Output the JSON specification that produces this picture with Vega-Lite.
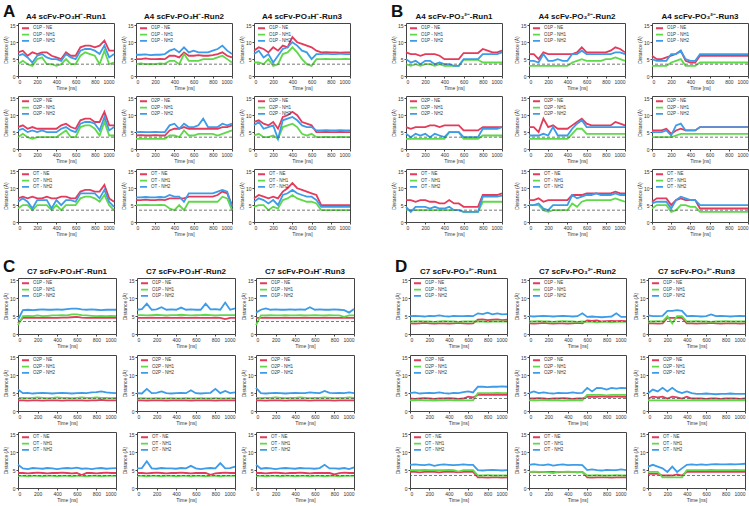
{
"$schema":"https://vega.github.io/schema/vega-lite/v6.json",
"background":"white",
"padding":{"left":2,"top":2,"right":2,"bottom":2},
"config":{
"font":"Liberation Sans",
"numberFormat":"d",
"view":{"stroke":"#444","strokeWidth":1,"continuousWidth":96,"continuousHeight":53},
"axis":{"grid":false,"domain":false,"labelFontSize":5,"titleFontSize":5,"titleFontWeight":"normal","tickSize":2,"labelPadding":1,"titlePadding":1,"tickColor":"#444","labelColor":"#333","titleColor":"#333"},
"axisX":{"tickCount":5},
"axisY":{"tickCount":3},
"title":{"fontSize":8,"fontWeight":"bold","offset":2,"color":"#111"},
"range":{"category":["#e23b5c","#5fd94a","#3c9ce8"]},
"line":{"strokeWidth":1.8},
"rule":{"strokeDash":[3,2],"color":"#555","strokeWidth":0.8},
"legend":{"orient":"top-left","offset":2,"padding":1,"labelFontSize":4.5,"symbolType":"stroke","symbolSize":50,"symbolStrokeWidth":2.5,"rowPadding":0.3,"clipHeight":4.5,"labelOffset":3,"labelColor":"#333"}
},
"datasets":{
"A11":[{"t":0,"NE":7,"NH1":3.5,"NH2":6},{"t":50,"NE":7.5,"NH1":4.5,"NH2":6.5},{"t":100,"NE":6,"NH1":3.5,"NH2":5.5},{"t":150,"NE":7,"NH1":3,"NH2":4},{"t":200,"NE":6.5,"NH1":5,"NH2":6},{"t":250,"NE":7,"NH1":5.5,"NH2":6.5},{"t":300,"NE":7,"NH1":3.5,"NH2":5.5},{"t":350,"NE":6,"NH1":3.5,"NH2":5},{"t":400,"NE":5.5,"NH1":3,"NH2":5},{"t":450,"NE":5,"NH1":3.5,"NH2":4.5},{"t":500,"NE":7,"NH1":5,"NH2":6.5},{"t":550,"NE":6,"NH1":3.5,"NH2":5.5},{"t":600,"NE":6,"NH1":3.5,"NH2":5},{"t":650,"NE":8.5,"NH1":6,"NH2":7.5},{"t":700,"NE":9,"NH1":7,"NH2":8},{"t":750,"NE":9,"NH1":6.5,"NH2":8},{"t":800,"NE":8.5,"NH1":6,"NH2":7.5},{"t":850,"NE":9,"NH1":3.5,"NH2":6.5},{"t":900,"NE":10.5,"NH1":7.5,"NH2":9},{"t":950,"NE":7.5,"NH1":3.5,"NH2":5.5},{"t":1000,"NE":7.5,"NH1":4,"NH2":6.5}],
"A12":[{"t":0,"NE":5,"NH1":3.5,"NH2":6.3},{"t":50,"NE":5,"NH1":3.7,"NH2":6.3},{"t":100,"NE":5.2,"NH1":3.5,"NH2":6.4},{"t":150,"NE":5,"NH1":3.6,"NH2":6.2},{"t":200,"NE":5,"NH1":3.5,"NH2":6.3},{"t":250,"NE":5.1,"NH1":3.7,"NH2":6.3},{"t":300,"NE":5,"NH1":3.6,"NH2":6.5},{"t":350,"NE":6,"NH1":4.5,"NH2":7.5},{"t":400,"NE":6,"NH1":4.5,"NH2":8},{"t":450,"NE":5.5,"NH1":3.5,"NH2":7},{"t":500,"NE":7,"NH1":6.5,"NH2":8.5},{"t":550,"NE":6,"NH1":4.5,"NH2":7},{"t":600,"NE":6,"NH1":4.5,"NH2":7.5},{"t":650,"NE":6.2,"NH1":4.5,"NH2":7},{"t":700,"NE":6,"NH1":5,"NH2":7},{"t":750,"NE":6,"NH1":5,"NH2":7},{"t":800,"NE":6.2,"NH1":5,"NH2":7.5},{"t":850,"NE":6.5,"NH1":5.5,"NH2":8},{"t":900,"NE":7,"NH1":6,"NH2":9},{"t":950,"NE":6,"NH1":5,"NH2":7.5},{"t":1000,"NE":5.5,"NH1":4,"NH2":6.5}],
"A13":[{"t":0,"NE":7.5,"NH1":4,"NH2":6.5},{"t":50,"NE":8.5,"NH1":4,"NH2":7.5},{"t":100,"NE":8,"NH1":3.5,"NH2":5.5},{"t":150,"NE":7,"NH1":5,"NH2":6.5},{"t":200,"NE":8.5,"NH1":3,"NH2":4},{"t":250,"NE":7.5,"NH1":3.5,"NH2":6},{"t":300,"NE":9,"NH1":6.5,"NH2":8},{"t":350,"NE":8.5,"NH1":7,"NH2":8.5},{"t":400,"NE":11.5,"NH1":8.5,"NH2":10},{"t":450,"NE":10,"NH1":7,"NH2":9},{"t":500,"NE":9.5,"NH1":5,"NH2":7.5},{"t":550,"NE":9,"NH1":3.5,"NH2":7},{"t":600,"NE":8.5,"NH1":3,"NH2":5},{"t":650,"NE":7.5,"NH1":5,"NH2":6.5},{"t":700,"NE":7,"NH1":5,"NH2":6.5},{"t":750,"NE":7.1,"NH1":5.1,"NH2":6.6},{"t":800,"NE":7,"NH1":5,"NH2":6.5},{"t":850,"NE":7,"NH1":5,"NH2":6.5},{"t":900,"NE":6.9,"NH1":5,"NH2":6.6},{"t":950,"NE":7,"NH1":5.1,"NH2":6.5},{"t":1000,"NE":7,"NH1":5,"NH2":6.5}],
"A21":[{"t":0,"NE":6.5,"NH1":3.5,"NH2":5.5},{"t":50,"NE":7,"NH1":4.5,"NH2":6},{"t":100,"NE":6,"NH1":3.5,"NH2":5},{"t":150,"NE":6.5,"NH1":3,"NH2":5.5},{"t":200,"NE":6,"NH1":3.5,"NH2":5},{"t":250,"NE":6,"NH1":3.5,"NH2":5.5},{"t":300,"NE":6,"NH1":3.5,"NH2":5},{"t":350,"NE":6,"NH1":3.5,"NH2":5},{"t":400,"NE":6,"NH1":3.5,"NH2":5},{"t":450,"NE":7,"NH1":4.5,"NH2":6},{"t":500,"NE":7.5,"NH1":5.5,"NH2":6.5},{"t":550,"NE":6.5,"NH1":3.5,"NH2":5.5},{"t":600,"NE":6,"NH1":3.5,"NH2":5},{"t":650,"NE":8.5,"NH1":6.5,"NH2":7.5},{"t":700,"NE":9,"NH1":7,"NH2":8},{"t":750,"NE":9,"NH1":7,"NH2":8},{"t":800,"NE":8,"NH1":6,"NH2":7.5},{"t":850,"NE":8,"NH1":4,"NH2":5.5},{"t":900,"NE":11,"NH1":8,"NH2":9.5},{"t":950,"NE":7,"NH1":4,"NH2":5.5},{"t":1000,"NE":7,"NH1":4,"NH2":6.5}],
"A22":[{"t":0,"NE":4,"NH1":3,"NH2":5},{"t":50,"NE":4.1,"NH1":3.1,"NH2":5.1},{"t":100,"NE":4,"NH1":3,"NH2":5},{"t":150,"NE":4,"NH1":3,"NH2":5},{"t":200,"NE":4.1,"NH1":3.1,"NH2":5.1},{"t":250,"NE":4,"NH1":3,"NH2":5},{"t":300,"NE":4,"NH1":3,"NH2":5},{"t":350,"NE":5.5,"NH1":4,"NH2":7},{"t":400,"NE":6,"NH1":4,"NH2":7.5},{"t":450,"NE":6,"NH1":3.5,"NH2":6},{"t":500,"NE":6.5,"NH1":5.5,"NH2":7.5},{"t":550,"NE":6,"NH1":4,"NH2":6.5},{"t":600,"NE":6,"NH1":4,"NH2":6.5},{"t":650,"NE":6,"NH1":4.5,"NH2":7},{"t":700,"NE":6,"NH1":4.5,"NH2":9},{"t":750,"NE":6,"NH1":4.5,"NH2":6.5},{"t":800,"NE":6,"NH1":4.5,"NH2":6.5},{"t":850,"NE":6,"NH1":4,"NH2":6.5},{"t":900,"NE":6.5,"NH1":4.5,"NH2":7.5},{"t":950,"NE":6.5,"NH1":5,"NH2":7},{"t":1000,"NE":7,"NH1":5.5,"NH2":7.5}],
"A23":[{"t":0,"NE":8,"NH1":4,"NH2":7},{"t":50,"NE":8.5,"NH1":4.5,"NH2":8},{"t":100,"NE":7.5,"NH1":3.5,"NH2":6},{"t":150,"NE":7,"NH1":3.5,"NH2":6.5},{"t":200,"NE":8,"NH1":4,"NH2":7},{"t":250,"NE":6,"NH1":3,"NH2":3},{"t":300,"NE":9.5,"NH1":6.5,"NH2":8.5},{"t":350,"NE":10,"NH1":7,"NH2":9},{"t":400,"NE":11,"NH1":7.5,"NH2":9.5},{"t":450,"NE":10,"NH1":6.5,"NH2":8.5},{"t":500,"NE":8,"NH1":4.5,"NH2":7},{"t":550,"NE":7.5,"NH1":4,"NH2":6.5},{"t":600,"NE":7,"NH1":4.5,"NH2":6.5},{"t":650,"NE":5,"NH1":3.5,"NH2":5.5},{"t":700,"NE":5,"NH1":3.5,"NH2":5.5},{"t":750,"NE":5.1,"NH1":3.6,"NH2":5.6},{"t":800,"NE":5,"NH1":3.5,"NH2":5.5},{"t":850,"NE":5,"NH1":3.5,"NH2":5.5},{"t":900,"NE":5.1,"NH1":3.6,"NH2":5.6},{"t":950,"NE":5,"NH1":3.5,"NH2":5.5},{"t":1000,"NE":5,"NH1":3.5,"NH2":5.5}],
"A31":[{"t":0,"NE":7,"NH1":4,"NH2":6},{"t":50,"NE":7.5,"NH1":5,"NH2":7},{"t":100,"NE":7,"NH1":5,"NH2":6},{"t":150,"NE":7.5,"NH1":3.5,"NH2":4},{"t":200,"NE":7,"NH1":5,"NH2":6.5},{"t":250,"NE":7,"NH1":5,"NH2":6.5},{"t":300,"NE":7.5,"NH1":5,"NH2":6.5},{"t":350,"NE":7,"NH1":3.5,"NH2":4},{"t":400,"NE":7,"NH1":5,"NH2":6.5},{"t":450,"NE":7.5,"NH1":3.5,"NH2":5},{"t":500,"NE":7.5,"NH1":5,"NH2":6.5},{"t":550,"NE":7,"NH1":5,"NH2":6.5},{"t":600,"NE":7,"NH1":5,"NH2":6},{"t":650,"NE":9,"NH1":7,"NH2":8.5},{"t":700,"NE":9.5,"NH1":7.5,"NH2":8.5},{"t":750,"NE":9.5,"NH1":7.5,"NH2":8.5},{"t":800,"NE":9,"NH1":7,"NH2":8.5},{"t":850,"NE":9,"NH1":6,"NH2":7},{"t":900,"NE":11,"NH1":8,"NH2":9.5},{"t":950,"NE":7,"NH1":5,"NH2":6},{"t":1000,"NE":6,"NH1":3.5,"NH2":4.5}],
"A32":[{"t":0,"NE":6.5,"NH1":5,"NH2":7.3},{"t":50,"NE":6.5,"NH1":5,"NH2":7.3},{"t":100,"NE":6.6,"NH1":5.1,"NH2":7.4},{"t":150,"NE":6.5,"NH1":5,"NH2":7.3},{"t":200,"NE":6.5,"NH1":5,"NH2":7.3},{"t":250,"NE":6.6,"NH1":5.1,"NH2":7.4},{"t":300,"NE":6.5,"NH1":5,"NH2":7.3},{"t":350,"NE":7,"NH1":4,"NH2":8},{"t":400,"NE":7,"NH1":3.5,"NH2":7.5},{"t":450,"NE":7,"NH1":5,"NH2":7.5},{"t":500,"NE":7,"NH1":3.5,"NH2":6},{"t":550,"NE":7.5,"NH1":6,"NH2":8.5},{"t":600,"NE":7.5,"NH1":6,"NH2":8.5},{"t":650,"NE":7.5,"NH1":6,"NH2":8.5},{"t":700,"NE":7.5,"NH1":6,"NH2":8.5},{"t":750,"NE":7.5,"NH1":6,"NH2":8.5},{"t":800,"NE":7.5,"NH1":6,"NH2":8.5},{"t":850,"NE":8,"NH1":6,"NH2":9},{"t":900,"NE":9,"NH1":7.5,"NH2":9.5},{"t":950,"NE":8.5,"NH1":7,"NH2":9},{"t":1000,"NE":5,"NH1":3.5,"NH2":4.5}],
"A33":[{"t":0,"NE":7,"NH1":4.5,"NH2":6},{"t":50,"NE":8,"NH1":5,"NH2":7},{"t":100,"NE":7.5,"NH1":5,"NH2":6.5},{"t":150,"NE":7,"NH1":3.5,"NH2":5.5},{"t":200,"NE":7.5,"NH1":4.5,"NH2":6.5},{"t":250,"NE":7,"NH1":4,"NH2":5},{"t":300,"NE":9,"NH1":6.5,"NH2":8},{"t":350,"NE":10,"NH1":7,"NH2":8.5},{"t":400,"NE":11.5,"NH1":8,"NH2":9.5},{"t":450,"NE":10,"NH1":7,"NH2":8.5},{"t":500,"NE":9.5,"NH1":6.5,"NH2":8},{"t":550,"NE":9,"NH1":6,"NH2":7.5},{"t":600,"NE":8.5,"NH1":6,"NH2":7.5},{"t":650,"NE":8,"NH1":5.5,"NH2":6.5},{"t":700,"NE":5,"NH1":3.5,"NH2":4.5},{"t":750,"NE":5,"NH1":3.5,"NH2":4.5},{"t":800,"NE":5,"NH1":3.5,"NH2":4.5},{"t":850,"NE":5,"NH1":3.5,"NH2":4.5},{"t":900,"NE":5,"NH1":3.5,"NH2":4.5},{"t":950,"NE":5,"NH1":3.5,"NH2":4.5},{"t":1000,"NE":5,"NH1":3.5,"NH2":4.5}],
"B11":[{"t":0,"NE":7,"NH1":3.5,"NH2":5},{"t":50,"NE":6.5,"NH1":3,"NH2":4},{"t":100,"NE":6.5,"NH1":3.5,"NH2":4.5},{"t":150,"NE":6,"NH1":3,"NH2":3.5},{"t":200,"NE":6.5,"NH1":3.5,"NH2":4.5},{"t":250,"NE":6.5,"NH1":3.5,"NH2":4.5},{"t":300,"NE":6.5,"NH1":3,"NH2":3.5},{"t":350,"NE":6,"NH1":3.5,"NH2":4},{"t":400,"NE":5,"NH1":3,"NH2":3.5},{"t":450,"NE":5,"NH1":3,"NH2":3.5},{"t":500,"NE":5,"NH1":3,"NH2":3},{"t":550,"NE":5,"NH1":3,"NH2":3},{"t":600,"NE":6.8,"NH1":4.8,"NH2":5},{"t":650,"NE":6.8,"NH1":4.8,"NH2":5},{"t":700,"NE":6.8,"NH1":4.8,"NH2":5},{"t":750,"NE":6.8,"NH1":4.8,"NH2":5},{"t":800,"NE":8,"NH1":4,"NH2":6.5},{"t":850,"NE":7.5,"NH1":4,"NH2":6.5},{"t":900,"NE":7,"NH1":4,"NH2":6.5},{"t":950,"NE":7,"NH1":4,"NH2":6.5},{"t":1000,"NE":7.5,"NH1":4,"NH2":7}],
"B12":[{"t":0,"NE":6.5,"NH1":3,"NH2":4.5},{"t":50,"NE":6.5,"NH1":3,"NH2":4.5},{"t":100,"NE":5,"NH1":3,"NH2":4},{"t":150,"NE":7,"NH1":3,"NH2":6.5},{"t":200,"NE":6.5,"NH1":3,"NH2":4.5},{"t":250,"NE":6.5,"NH1":3,"NH2":4.5},{"t":300,"NE":6.5,"NH1":3,"NH2":5},{"t":350,"NE":6.5,"NH1":3,"NH2":4.5},{"t":400,"NE":6.5,"NH1":3,"NH2":4.5},{"t":450,"NE":6.5,"NH1":4,"NH2":6.5},{"t":500,"NE":7,"NH1":4.5,"NH2":6.5},{"t":550,"NE":8.5,"NH1":5,"NH2":7.5},{"t":600,"NE":7,"NH1":4.5,"NH2":6.5},{"t":650,"NE":7,"NH1":4.5,"NH2":6.5},{"t":700,"NE":7,"NH1":4.5,"NH2":6.5},{"t":750,"NE":7,"NH1":4.5,"NH2":6.5},{"t":800,"NE":7,"NH1":5,"NH2":6.5},{"t":850,"NE":7.5,"NH1":5,"NH2":6.5},{"t":900,"NE":8.5,"NH1":5.5,"NH2":7},{"t":950,"NE":8,"NH1":5,"NH2":7},{"t":1000,"NE":7,"NH1":4.5,"NH2":6.5}],
"B13":[{"t":0,"NE":6,"NH1":3,"NH2":5},{"t":50,"NE":5,"NH1":3,"NH2":4.5},{"t":100,"NE":5,"NH1":3,"NH2":4.5},{"t":150,"NE":5.5,"NH1":3,"NH2":4.5},{"t":200,"NE":6,"NH1":4,"NH2":6.5},{"t":250,"NE":6.5,"NH1":4.5,"NH2":6.5},{"t":300,"NE":7.5,"NH1":5,"NH2":7.5},{"t":350,"NE":4.5,"NH1":3,"NH2":5},{"t":400,"NE":4,"NH1":3,"NH2":4.5},{"t":450,"NE":4,"NH1":3,"NH2":4.5},{"t":500,"NE":6,"NH1":4,"NH2":6.5},{"t":550,"NE":6,"NH1":4,"NH2":6.5},{"t":600,"NE":6,"NH1":4,"NH2":6.5},{"t":650,"NE":6,"NH1":4,"NH2":6.5},{"t":700,"NE":6,"NH1":4,"NH2":6.5},{"t":750,"NE":6,"NH1":4,"NH2":6.5},{"t":800,"NE":6,"NH1":4,"NH2":6.5},{"t":850,"NE":6,"NH1":4,"NH2":6.5},{"t":900,"NE":6,"NH1":4,"NH2":6.5},{"t":950,"NE":6,"NH1":4,"NH2":6.5},{"t":1000,"NE":6,"NH1":4,"NH2":6.5}],
"B21":[{"t":0,"NE":6.5,"NH1":3,"NH2":4.5},{"t":50,"NE":6,"NH1":3,"NH2":3.5},{"t":100,"NE":6.5,"NH1":3,"NH2":4.5},{"t":150,"NE":6.5,"NH1":3,"NH2":4},{"t":200,"NE":6.5,"NH1":3,"NH2":4.5},{"t":250,"NE":7,"NH1":3,"NH2":3.5},{"t":300,"NE":7,"NH1":3,"NH2":4.5},{"t":350,"NE":6.5,"NH1":3,"NH2":4},{"t":400,"NE":7,"NH1":3,"NH2":3.5},{"t":450,"NE":7,"NH1":5,"NH2":5},{"t":500,"NE":7,"NH1":5,"NH2":5},{"t":550,"NE":7,"NH1":5,"NH2":5},{"t":600,"NE":5.5,"NH1":3,"NH2":3.5},{"t":650,"NE":5.5,"NH1":3,"NH2":3.5},{"t":700,"NE":5.5,"NH1":3,"NH2":3.5},{"t":750,"NE":5.5,"NH1":3,"NH2":3.5},{"t":800,"NE":6.5,"NH1":4,"NH2":6},{"t":850,"NE":6.5,"NH1":4,"NH2":6},{"t":900,"NE":6.5,"NH1":4,"NH2":6},{"t":950,"NE":6.5,"NH1":4,"NH2":6},{"t":1000,"NE":6.5,"NH1":4,"NH2":6.5}],
"B22":[{"t":0,"NE":6.5,"NH1":3,"NH2":4},{"t":50,"NE":6.5,"NH1":3,"NH2":4},{"t":100,"NE":5,"NH1":3,"NH2":4},{"t":150,"NE":9,"NH1":3,"NH2":4.5},{"t":200,"NE":6.5,"NH1":3,"NH2":4},{"t":250,"NE":7,"NH1":3,"NH2":6.5},{"t":300,"NE":6,"NH1":3,"NH2":4},{"t":350,"NE":6,"NH1":3,"NH2":4},{"t":400,"NE":6,"NH1":3,"NH2":4},{"t":450,"NE":7,"NH1":4.5,"NH2":6},{"t":500,"NE":8,"NH1":6,"NH2":7.5},{"t":550,"NE":9,"NH1":6,"NH2":8.5},{"t":600,"NE":7.5,"NH1":4.5,"NH2":6.5},{"t":650,"NE":7,"NH1":4.5,"NH2":6.5},{"t":700,"NE":7,"NH1":4.5,"NH2":6.5},{"t":750,"NE":7,"NH1":4.5,"NH2":6.5},{"t":800,"NE":7,"NH1":4.5,"NH2":6.5},{"t":850,"NE":7,"NH1":4.5,"NH2":6.5},{"t":900,"NE":8,"NH1":4.5,"NH2":6.5},{"t":950,"NE":7.5,"NH1":4.5,"NH2":6.5},{"t":1000,"NE":7,"NH1":4.5,"NH2":6.5}],
"B23":[{"t":0,"NE":5.5,"NH1":3.5,"NH2":5},{"t":50,"NE":5.5,"NH1":3.5,"NH2":5},{"t":100,"NE":5.5,"NH1":3.5,"NH2":5},{"t":150,"NE":6,"NH1":3.5,"NH2":5.5},{"t":200,"NE":4.5,"NH1":3.5,"NH2":4},{"t":250,"NE":5.5,"NH1":4,"NH2":7},{"t":300,"NE":6,"NH1":4.5,"NH2":7.5},{"t":350,"NE":5.5,"NH1":4.5,"NH2":5.5},{"t":400,"NE":5.5,"NH1":4.5,"NH2":5.5},{"t":450,"NE":5.5,"NH1":4.5,"NH2":5.5},{"t":500,"NE":6.5,"NH1":4.5,"NH2":6.5},{"t":550,"NE":6.5,"NH1":4.5,"NH2":6.5},{"t":600,"NE":6.5,"NH1":4.5,"NH2":6.5},{"t":650,"NE":6.5,"NH1":4.5,"NH2":6.5},{"t":700,"NE":6.5,"NH1":4.5,"NH2":6.5},{"t":750,"NE":6.5,"NH1":4.5,"NH2":6.5},{"t":800,"NE":6.5,"NH1":4.5,"NH2":6.5},{"t":850,"NE":6.5,"NH1":4.5,"NH2":6.5},{"t":900,"NE":6.5,"NH1":4.5,"NH2":6.5},{"t":950,"NE":6.5,"NH1":4.5,"NH2":6.5},{"t":1000,"NE":6.5,"NH1":4.5,"NH2":6.5}],
"B31":[{"t":0,"NE":6.5,"NH1":3.5,"NH2":4.5},{"t":50,"NE":6.5,"NH1":3.5,"NH2":3},{"t":100,"NE":6,"NH1":3.5,"NH2":4.5},{"t":150,"NE":6.5,"NH1":3.5,"NH2":4.5},{"t":200,"NE":6.5,"NH1":3.5,"NH2":4.5},{"t":250,"NE":6,"NH1":3.5,"NH2":4},{"t":300,"NE":6,"NH1":3.5,"NH2":4.5},{"t":350,"NE":5.5,"NH1":3.5,"NH2":4},{"t":400,"NE":5.5,"NH1":3.5,"NH2":4},{"t":450,"NE":6.5,"NH1":3.5,"NH2":4.5},{"t":500,"NE":5.5,"NH1":3.5,"NH2":3.5},{"t":550,"NE":5.5,"NH1":3.5,"NH2":3.5},{"t":600,"NE":4.5,"NH1":3,"NH2":3},{"t":650,"NE":4.5,"NH1":3,"NH2":3},{"t":700,"NE":4.5,"NH1":3,"NH2":3},{"t":750,"NE":4.5,"NH1":3,"NH2":3},{"t":800,"NE":8,"NH1":6,"NH2":7.5},{"t":850,"NE":8,"NH1":6,"NH2":7.5},{"t":900,"NE":8,"NH1":6,"NH2":7.5},{"t":950,"NE":8,"NH1":6,"NH2":7.5},{"t":1000,"NE":8.5,"NH1":6,"NH2":7.8}],
"B32":[{"t":0,"NE":6.5,"NH1":5,"NH2":5},{"t":50,"NE":6.5,"NH1":5,"NH2":5},{"t":100,"NE":7,"NH1":5,"NH2":5.5},{"t":150,"NE":6,"NH1":3.5,"NH2":4},{"t":200,"NE":6.5,"NH1":3,"NH2":3.5},{"t":250,"NE":6.5,"NH1":3.5,"NH2":5},{"t":300,"NE":6.5,"NH1":3.5,"NH2":5},{"t":350,"NE":6.5,"NH1":3.5,"NH2":5},{"t":400,"NE":6.5,"NH1":3.5,"NH2":5},{"t":450,"NE":8,"NH1":5.5,"NH2":8},{"t":500,"NE":8,"NH1":4.5,"NH2":7},{"t":550,"NE":8,"NH1":6,"NH2":7.5},{"t":600,"NE":8.5,"NH1":6.5,"NH2":8},{"t":650,"NE":8.5,"NH1":6.5,"NH2":8},{"t":700,"NE":8.5,"NH1":6.5,"NH2":8.5},{"t":750,"NE":8.5,"NH1":6.5,"NH2":8},{"t":800,"NE":8.5,"NH1":6.5,"NH2":8},{"t":850,"NE":8.5,"NH1":6.5,"NH2":8},{"t":900,"NE":9,"NH1":7,"NH2":8.5},{"t":950,"NE":8.5,"NH1":6.5,"NH2":8},{"t":1000,"NE":8.5,"NH1":6,"NH2":8}],
"B33":[{"t":0,"NE":6,"NH1":4,"NH2":5.5},{"t":50,"NE":7,"NH1":5,"NH2":6},{"t":100,"NE":7,"NH1":5,"NH2":6},{"t":150,"NE":7,"NH1":5,"NH2":6},{"t":200,"NE":5,"NH1":3,"NH2":4},{"t":250,"NE":6.5,"NH1":3.5,"NH2":6.5},{"t":300,"NE":7,"NH1":5,"NH2":7.5},{"t":350,"NE":6.5,"NH1":5,"NH2":7},{"t":400,"NE":6.5,"NH1":4.5,"NH2":6.5},{"t":450,"NE":6.5,"NH1":4.5,"NH2":6.5},{"t":500,"NE":4,"NH1":3,"NH2":5},{"t":550,"NE":4,"NH1":3,"NH2":5},{"t":600,"NE":4,"NH1":3,"NH2":5},{"t":650,"NE":4,"NH1":3,"NH2":5},{"t":700,"NE":4,"NH1":3,"NH2":5},{"t":750,"NE":4,"NH1":3,"NH2":5},{"t":800,"NE":4,"NH1":3,"NH2":5},{"t":850,"NE":4,"NH1":3,"NH2":5},{"t":900,"NE":4,"NH1":3,"NH2":5},{"t":950,"NE":4,"NH1":3,"NH2":5},{"t":1000,"NE":4,"NH1":3,"NH2":5}],
"C11":[{"t":0,"NE":3,"NH1":2.5,"NH2":4},{"t":50,"NE":4.5,"NH1":5,"NH2":6.7},{"t":100,"NE":4.5,"NH1":5.1,"NH2":6.8},{"t":150,"NE":4.6,"NH1":5,"NH2":6.7},{"t":200,"NE":4.5,"NH1":5.2,"NH2":6.8},{"t":250,"NE":4.5,"NH1":5,"NH2":6.9},{"t":300,"NE":4.6,"NH1":5.1,"NH2":6.8},{"t":350,"NE":4.5,"NH1":5.2,"NH2":6.8},{"t":400,"NE":4.5,"NH1":5.2,"NH2":6.9},{"t":450,"NE":4.6,"NH1":5.3,"NH2":6.8},{"t":500,"NE":4.6,"NH1":5.2,"NH2":7},{"t":550,"NE":4.7,"NH1":5.5,"NH2":7.1},{"t":600,"NE":4.8,"NH1":5.5,"NH2":7.1},{"t":650,"NE":4.6,"NH1":5.3,"NH2":6.9},{"t":700,"NE":4.5,"NH1":5.2,"NH2":6.8},{"t":750,"NE":4.5,"NH1":5.1,"NH2":6.9},{"t":800,"NE":4.6,"NH1":5,"NH2":6.8},{"t":850,"NE":4.5,"NH1":5.1,"NH2":6.7},{"t":900,"NE":4.5,"NH1":5,"NH2":6.8},{"t":950,"NE":4.6,"NH1":5.1,"NH2":6.8},{"t":1000,"NE":4.5,"NH1":5,"NH2":6.8}],
"C12":[{"t":0,"NE":4.5,"NH1":5.3,"NH2":6.8},{"t":50,"NE":4.5,"NH1":5.3,"NH2":7},{"t":100,"NE":4.5,"NH1":5.2,"NH2":8.5},{"t":150,"NE":4.6,"NH1":5.3,"NH2":6.8},{"t":200,"NE":4.5,"NH1":5.4,"NH2":6.9},{"t":250,"NE":4.5,"NH1":5.3,"NH2":7.5},{"t":300,"NE":4.6,"NH1":5.2,"NH2":6.8},{"t":350,"NE":4.5,"NH1":5.3,"NH2":6.9},{"t":400,"NE":4.5,"NH1":5.3,"NH2":6.8},{"t":450,"NE":4.6,"NH1":5.4,"NH2":7.4},{"t":500,"NE":4.5,"NH1":5.3,"NH2":6.8},{"t":550,"NE":4.5,"NH1":5.2,"NH2":6.9},{"t":600,"NE":4.6,"NH1":5.3,"NH2":6.8},{"t":650,"NE":4.5,"NH1":5.3,"NH2":6.8},{"t":700,"NE":4.5,"NH1":5.4,"NH2":8.5},{"t":750,"NE":4.5,"NH1":5.3,"NH2":6.9},{"t":800,"NE":4.6,"NH1":5.2,"NH2":7},{"t":850,"NE":4.5,"NH1":5.3,"NH2":6.8},{"t":900,"NE":4.2,"NH1":5.3,"NH2":8.8},{"t":950,"NE":4.5,"NH1":5.3,"NH2":6.8},{"t":1000,"NE":4.5,"NH1":5.3,"NH2":7.2}],
"C13":[{"t":0,"NE":4.5,"NH1":2.5,"NH2":6},{"t":50,"NE":4.5,"NH1":5.2,"NH2":6.8},{"t":100,"NE":4.6,"NH1":5.2,"NH2":7.2},{"t":150,"NE":4.5,"NH1":5.3,"NH2":6.8},{"t":200,"NE":4.5,"NH1":5.2,"NH2":6.9},{"t":250,"NE":4.5,"NH1":5.2,"NH2":6.8},{"t":300,"NE":4.6,"NH1":5.3,"NH2":6.8},{"t":350,"NE":4.5,"NH1":5.2,"NH2":6.9},{"t":400,"NE":4.5,"NH1":5.2,"NH2":6.8},{"t":450,"NE":4.5,"NH1":5.3,"NH2":6.9},{"t":500,"NE":4.6,"NH1":5.2,"NH2":6.8},{"t":550,"NE":4.5,"NH1":5.2,"NH2":7.5},{"t":600,"NE":4.5,"NH1":5.3,"NH2":6.8},{"t":650,"NE":4.5,"NH1":5.2,"NH2":6.9},{"t":700,"NE":4.6,"NH1":5.2,"NH2":6.8},{"t":750,"NE":4.5,"NH1":5.3,"NH2":6.8},{"t":800,"NE":4.5,"NH1":5.2,"NH2":6.9},{"t":850,"NE":4.5,"NH1":5.2,"NH2":6.8},{"t":900,"NE":4.5,"NH1":4.8,"NH2":6.7},{"t":950,"NE":4.5,"NH1":5.2,"NH2":6},{"t":1000,"NE":4.5,"NH1":5.2,"NH2":7}],
"C21":[{"t":0,"NE":3,"NH1":3.7,"NH2":6},{"t":50,"NE":3,"NH1":3.7,"NH2":5},{"t":100,"NE":2.9,"NH1":3.6,"NH2":5.1},{"t":150,"NE":3,"NH1":3.7,"NH2":4.9},{"t":200,"NE":3,"NH1":3.8,"NH2":5},{"t":250,"NE":2.9,"NH1":3.7,"NH2":5.1},{"t":300,"NE":3,"NH1":3.6,"NH2":5},{"t":350,"NE":3,"NH1":3.7,"NH2":4.9},{"t":400,"NE":3,"NH1":3.8,"NH2":5},{"t":450,"NE":2.9,"NH1":3.7,"NH2":5.1},{"t":500,"NE":3,"NH1":3.7,"NH2":5},{"t":550,"NE":3,"NH1":3.6,"NH2":4.9},{"t":600,"NE":3,"NH1":3.7,"NH2":5},{"t":650,"NE":3,"NH1":3.8,"NH2":5.1},{"t":700,"NE":2.9,"NH1":3.7,"NH2":5},{"t":750,"NE":3,"NH1":3.7,"NH2":5.2},{"t":800,"NE":3,"NH1":3.8,"NH2":5.3},{"t":850,"NE":3.1,"NH1":3.7,"NH2":5.5},{"t":900,"NE":3,"NH1":3.7,"NH2":5.2},{"t":950,"NE":3,"NH1":3.6,"NH2":5.1},{"t":1000,"NE":3,"NH1":3.7,"NH2":5}],
"C22":[{"t":0,"NE":3,"NH1":3.5,"NH2":5},{"t":50,"NE":3,"NH1":3.6,"NH2":4.9},{"t":100,"NE":2.9,"NH1":3.5,"NH2":6.2},{"t":150,"NE":3,"NH1":3.5,"NH2":5},{"t":200,"NE":3,"NH1":3.6,"NH2":5.1},{"t":250,"NE":3,"NH1":3.5,"NH2":5.5},{"t":300,"NE":2.9,"NH1":3.5,"NH2":5},{"t":350,"NE":3,"NH1":3.6,"NH2":4.9},{"t":400,"NE":3,"NH1":3.5,"NH2":5},{"t":450,"NE":3,"NH1":3.5,"NH2":5.1},{"t":500,"NE":3,"NH1":3.6,"NH2":5},{"t":550,"NE":2.9,"NH1":3.5,"NH2":5.8},{"t":600,"NE":3,"NH1":3.5,"NH2":5},{"t":650,"NE":3,"NH1":3.6,"NH2":4.9},{"t":700,"NE":3,"NH1":3.5,"NH2":5},{"t":750,"NE":3,"NH1":3.5,"NH2":5.1},{"t":800,"NE":2.9,"NH1":3.6,"NH2":6.2},{"t":850,"NE":3,"NH1":3.5,"NH2":5},{"t":900,"NE":3,"NH1":3.5,"NH2":5.6},{"t":950,"NE":3,"NH1":3.6,"NH2":5},{"t":1000,"NE":3,"NH1":3.5,"NH2":5.2}],
"C23":[{"t":0,"NE":3,"NH1":3.7,"NH2":6.5},{"t":50,"NE":3,"NH1":3.6,"NH2":5},{"t":100,"NE":2.9,"NH1":3.7,"NH2":4.9},{"t":150,"NE":3,"NH1":3.7,"NH2":5},{"t":200,"NE":3,"NH1":3.8,"NH2":5.1},{"t":250,"NE":3,"NH1":3.7,"NH2":5},{"t":300,"NE":2.9,"NH1":3.6,"NH2":4.9},{"t":350,"NE":3,"NH1":3.7,"NH2":5},{"t":400,"NE":3,"NH1":3.7,"NH2":5.1},{"t":450,"NE":3,"NH1":3.8,"NH2":5},{"t":500,"NE":3,"NH1":3.7,"NH2":5},{"t":550,"NE":2.9,"NH1":3.6,"NH2":5.2},{"t":600,"NE":3,"NH1":3.7,"NH2":5.1},{"t":650,"NE":3,"NH1":3.7,"NH2":5},{"t":700,"NE":3,"NH1":3.8,"NH2":5.6},{"t":750,"NE":3,"NH1":3.7,"NH2":5.1},{"t":800,"NE":2.9,"NH1":3.6,"NH2":5},{"t":850,"NE":3,"NH1":3.7,"NH2":5.1},{"t":900,"NE":3,"NH1":3.7,"NH2":5},{"t":950,"NE":3,"NH1":3.8,"NH2":5.2},{"t":1000,"NE":3,"NH1":3.7,"NH2":5}],
"C31":[{"t":0,"NE":4.2,"NH1":3.4,"NH2":6.5},{"t":50,"NE":4.2,"NH1":3.4,"NH2":5.5},{"t":100,"NE":4.1,"NH1":3.3,"NH2":5.3},{"t":150,"NE":4.2,"NH1":3.4,"NH2":5.6},{"t":200,"NE":4.3,"NH1":3.4,"NH2":5.5},{"t":250,"NE":4.2,"NH1":3.3,"NH2":5.4},{"t":300,"NE":4.1,"NH1":3.4,"NH2":5.6},{"t":350,"NE":4.2,"NH1":3.4,"NH2":5.5},{"t":400,"NE":4.2,"NH1":3.3,"NH2":5.3},{"t":450,"NE":4.3,"NH1":3.4,"NH2":5.5},{"t":500,"NE":4.2,"NH1":3.4,"NH2":5.6},{"t":550,"NE":4.1,"NH1":3.3,"NH2":5.5},{"t":600,"NE":4.2,"NH1":3.4,"NH2":5.7},{"t":650,"NE":3.6,"NH1":3.4,"NH2":5.4},{"t":700,"NE":4.2,"NH1":3.3,"NH2":5.5},{"t":750,"NE":4.2,"NH1":3.4,"NH2":5.3},{"t":800,"NE":4.1,"NH1":3.4,"NH2":5.5},{"t":850,"NE":4.2,"NH1":3.3,"NH2":5.6},{"t":900,"NE":4.3,"NH1":3.4,"NH2":5.4},{"t":950,"NE":4.2,"NH1":3.4,"NH2":5.5},{"t":1000,"NE":4.2,"NH1":3.4,"NH2":5.6}],
"C32":[{"t":0,"NE":4.2,"NH1":3.4,"NH2":5.5},{"t":50,"NE":4.2,"NH1":3.4,"NH2":5.6},{"t":100,"NE":4.1,"NH1":3.3,"NH2":7.5},{"t":150,"NE":4.2,"NH1":3.4,"NH2":5.5},{"t":200,"NE":4.3,"NH1":3.4,"NH2":5.4},{"t":250,"NE":4.2,"NH1":3.3,"NH2":5.6},{"t":300,"NE":4.1,"NH1":3.4,"NH2":5.5},{"t":350,"NE":4.2,"NH1":3.4,"NH2":5.5},{"t":400,"NE":4.2,"NH1":3.3,"NH2":5.4},{"t":450,"NE":4.3,"NH1":3.4,"NH2":5.6},{"t":500,"NE":4.2,"NH1":3.4,"NH2":5.5},{"t":550,"NE":4.1,"NH1":3.3,"NH2":6.2},{"t":600,"NE":4.2,"NH1":3.4,"NH2":5.5},{"t":650,"NE":4.2,"NH1":3.4,"NH2":5.3},{"t":700,"NE":4.2,"NH1":3.3,"NH2":5.5},{"t":750,"NE":3.7,"NH1":3.4,"NH2":5.6},{"t":800,"NE":4.1,"NH1":3.4,"NH2":5.5},{"t":850,"NE":4.2,"NH1":3.3,"NH2":7},{"t":900,"NE":4.3,"NH1":3.4,"NH2":5.5},{"t":950,"NE":4.2,"NH1":3.4,"NH2":5.6},{"t":1000,"NE":4.2,"NH1":3.4,"NH2":6}],
"C33":[{"t":0,"NE":4.2,"NH1":3.4,"NH2":6.5},{"t":50,"NE":4.2,"NH1":3.4,"NH2":5.4},{"t":100,"NE":4.1,"NH1":3.3,"NH2":5.6},{"t":150,"NE":4.2,"NH1":3.4,"NH2":5.5},{"t":200,"NE":4.3,"NH1":3.4,"NH2":5.3},{"t":250,"NE":4.2,"NH1":3.3,"NH2":5.5},{"t":300,"NE":4.1,"NH1":3.4,"NH2":5.6},{"t":350,"NE":4.2,"NH1":3.4,"NH2":5.5},{"t":400,"NE":4.2,"NH1":3.3,"NH2":5.4},{"t":450,"NE":4.3,"NH1":3.4,"NH2":5.6},{"t":500,"NE":4.2,"NH1":3.4,"NH2":5.5},{"t":550,"NE":4.1,"NH1":3.3,"NH2":5.5},{"t":600,"NE":4.2,"NH1":3.4,"NH2":5.4},{"t":650,"NE":4.2,"NH1":3.4,"NH2":5.6},{"t":700,"NE":4.2,"NH1":3.3,"NH2":6.5},{"t":750,"NE":4.2,"NH1":3.4,"NH2":5.5},{"t":800,"NE":3.8,"NH1":3.4,"NH2":5.5},{"t":850,"NE":4.2,"NH1":3.3,"NH2":5.4},{"t":900,"NE":4.3,"NH1":3.4,"NH2":5.6},{"t":950,"NE":4.2,"NH1":3.4,"NH2":5.3},{"t":1000,"NE":4.2,"NH1":3.4,"NH2":5.8}],
"D11":[{"t":0,"NE":3,"NH1":3.5,"NH2":5},{"t":50,"NE":2.9,"NH1":3.5,"NH2":5.1},{"t":100,"NE":3,"NH1":3.6,"NH2":5},{"t":150,"NE":3.1,"NH1":3.5,"NH2":4.9},{"t":200,"NE":3,"NH1":3.5,"NH2":5.1},{"t":250,"NE":2.9,"NH1":3.4,"NH2":5},{"t":300,"NE":3,"NH1":3.5,"NH2":5.2},{"t":350,"NE":3,"NH1":3.6,"NH2":5},{"t":400,"NE":2.9,"NH1":3.5,"NH2":4.9},{"t":450,"NE":3,"NH1":3.5,"NH2":5.1},{"t":500,"NE":3.1,"NH1":3.4,"NH2":5},{"t":550,"NE":3,"NH1":3.5,"NH2":5},{"t":600,"NE":2.9,"NH1":3.5,"NH2":5.1},{"t":650,"NE":3,"NH1":3.5,"NH2":5},{"t":700,"NE":4,"NH1":3.5,"NH2":5.8},{"t":750,"NE":4.1,"NH1":3.5,"NH2":5.6},{"t":800,"NE":3.9,"NH1":3.4,"NH2":6},{"t":850,"NE":4,"NH1":3.5,"NH2":5.5},{"t":900,"NE":4.1,"NH1":3.5,"NH2":5.8},{"t":950,"NE":3.9,"NH1":3.5,"NH2":5.5},{"t":1000,"NE":4,"NH1":3.5,"NH2":5.6}],
"D12":[{"t":0,"NE":3,"NH1":3.5,"NH2":5},{"t":50,"NE":2.9,"NH1":3.5,"NH2":4.9},{"t":100,"NE":3,"NH1":3.6,"NH2":5},{"t":150,"NE":3.1,"NH1":3.5,"NH2":5.1},{"t":200,"NE":3,"NH1":3.5,"NH2":5},{"t":250,"NE":2.9,"NH1":3.4,"NH2":4.9},{"t":300,"NE":3,"NH1":3.5,"NH2":5},{"t":350,"NE":3,"NH1":3.6,"NH2":5.1},{"t":400,"NE":2.9,"NH1":3.5,"NH2":5},{"t":450,"NE":3,"NH1":3.5,"NH2":4.9},{"t":500,"NE":3.1,"NH1":3.4,"NH2":5},{"t":550,"NE":3,"NH1":3.5,"NH2":5.8},{"t":600,"NE":3.8,"NH1":3.4,"NH2":4.8},{"t":650,"NE":3.7,"NH1":3.4,"NH2":4.9},{"t":700,"NE":3.8,"NH1":3.3,"NH2":4.8},{"t":750,"NE":3.5,"NH1":3.4,"NH2":4.7},{"t":800,"NE":3.6,"NH1":3.4,"NH2":4.8},{"t":850,"NE":3.7,"NH1":3.3,"NH2":4.9},{"t":900,"NE":3.6,"NH1":3.4,"NH2":5.8},{"t":950,"NE":3.7,"NH1":3.4,"NH2":4.8},{"t":1000,"NE":3.6,"NH1":3.4,"NH2":4.8}],
"D13":[{"t":0,"NE":3,"NH1":3.5,"NH2":5.2},{"t":50,"NE":3,"NH1":3.5,"NH2":5},{"t":100,"NE":2.9,"NH1":3.6,"NH2":5},{"t":150,"NE":3,"NH1":3.5,"NH2":5.1},{"t":200,"NE":4.5,"NH1":5,"NH2":6.5},{"t":250,"NE":4.5,"NH1":3,"NH2":6.5},{"t":300,"NE":4.5,"NH1":5,"NH2":6.7},{"t":350,"NE":4.5,"NH1":5,"NH2":6.5},{"t":400,"NE":3,"NH1":3.5,"NH2":5},{"t":450,"NE":3,"NH1":3.5,"NH2":5.1},{"t":500,"NE":2.9,"NH1":3.6,"NH2":5},{"t":550,"NE":3,"NH1":3.5,"NH2":4.9},{"t":600,"NE":3,"NH1":3.5,"NH2":5},{"t":650,"NE":3.1,"NH1":3.4,"NH2":5.5},{"t":700,"NE":3,"NH1":3.5,"NH2":5},{"t":750,"NE":2.9,"NH1":3.5,"NH2":5.1},{"t":800,"NE":3,"NH1":3.6,"NH2":5},{"t":850,"NE":3,"NH1":3.5,"NH2":4.9},{"t":900,"NE":3,"NH1":3.5,"NH2":5},{"t":950,"NE":2.9,"NH1":3.5,"NH2":5.1},{"t":1000,"NE":3,"NH1":3.5,"NH2":5}],
"D21":[{"t":0,"NE":3.5,"NH1":3,"NH2":5},{"t":50,"NE":3.4,"NH1":3,"NH2":5.2},{"t":100,"NE":3.5,"NH1":3.1,"NH2":4.9},{"t":150,"NE":3.6,"NH1":3,"NH2":5},{"t":200,"NE":3.5,"NH1":3,"NH2":5.1},{"t":250,"NE":3.4,"NH1":2.9,"NH2":5},{"t":300,"NE":3.5,"NH1":3,"NH2":5.2},{"t":350,"NE":3.5,"NH1":3,"NH2":5},{"t":400,"NE":3.6,"NH1":3.1,"NH2":4.9},{"t":450,"NE":3.5,"NH1":3,"NH2":5.1},{"t":500,"NE":3.4,"NH1":3,"NH2":5},{"t":550,"NE":3.5,"NH1":3,"NH2":5.3},{"t":600,"NE":4,"NH1":3,"NH2":5.5},{"t":650,"NE":3.8,"NH1":3,"NH2":5.2},{"t":700,"NE":4.5,"NH1":5,"NH2":6.8},{"t":750,"NE":4.5,"NH1":5,"NH2":6.8},{"t":800,"NE":4.6,"NH1":5,"NH2":6.7},{"t":850,"NE":4.5,"NH1":5,"NH2":6.8},{"t":900,"NE":4.5,"NH1":5.1,"NH2":6.8},{"t":950,"NE":4.5,"NH1":5,"NH2":6.9},{"t":1000,"NE":4.5,"NH1":5,"NH2":6.8}],
"D22":[{"t":0,"NE":3.5,"NH1":3,"NH2":5},{"t":50,"NE":3.5,"NH1":3,"NH2":5.5},{"t":100,"NE":3.6,"NH1":3,"NH2":5},{"t":150,"NE":3.5,"NH1":3.1,"NH2":5.2},{"t":200,"NE":3.4,"NH1":3,"NH2":5},{"t":250,"NE":3.5,"NH1":3,"NH2":4.9},{"t":300,"NE":3.5,"NH1":3,"NH2":5.1},{"t":350,"NE":3.6,"NH1":2.9,"NH2":5},{"t":400,"NE":3.5,"NH1":3,"NH2":5},{"t":450,"NE":3.4,"NH1":3,"NH2":5.2},{"t":500,"NE":3.5,"NH1":3,"NH2":5},{"t":550,"NE":3.5,"NH1":3,"NH2":5.1},{"t":600,"NE":4,"NH1":4.5,"NH2":6.5},{"t":650,"NE":4,"NH1":4.5,"NH2":5.5},{"t":700,"NE":4,"NH1":4.5,"NH2":6.5},{"t":750,"NE":4.1,"NH1":4.5,"NH2":6.4},{"t":800,"NE":4,"NH1":4.4,"NH2":6},{"t":850,"NE":4,"NH1":4.5,"NH2":6.5},{"t":900,"NE":4.1,"NH1":4.5,"NH2":6.3},{"t":950,"NE":4,"NH1":4.5,"NH2":6.5},{"t":1000,"NE":4,"NH1":4.5,"NH2":6.4}],
"D23":[{"t":0,"NE":3.5,"NH1":3,"NH2":5},{"t":50,"NE":4,"NH1":3,"NH2":6},{"t":100,"NE":3.8,"NH1":3,"NH2":5.5},{"t":150,"NE":4,"NH1":3,"NH2":6.5},{"t":200,"NE":3.5,"NH1":3,"NH2":5.5},{"t":250,"NE":4,"NH1":3,"NH2":6.5},{"t":300,"NE":3.8,"NH1":3,"NH2":5.5},{"t":350,"NE":3.5,"NH1":3,"NH2":5},{"t":400,"NE":4,"NH1":3,"NH2":5.5},{"t":450,"NE":3.5,"NH1":3,"NH2":5},{"t":500,"NE":3.5,"NH1":3,"NH2":4.8},{"t":550,"NE":3.5,"NH1":3,"NH2":4.8},{"t":600,"NE":3.4,"NH1":3,"NH2":4.9},{"t":650,"NE":3.5,"NH1":3,"NH2":4.8},{"t":700,"NE":3.5,"NH1":3,"NH2":4.7},{"t":750,"NE":3.4,"NH1":3,"NH2":4.8},{"t":800,"NE":3.5,"NH1":3,"NH2":4.8},{"t":850,"NE":3.5,"NH1":3,"NH2":4.9},{"t":900,"NE":3.5,"NH1":3,"NH2":4.8},{"t":950,"NE":3.4,"NH1":3,"NH2":4.8},{"t":1000,"NE":3.5,"NH1":3,"NH2":4.8}],
"D31":[{"t":0,"NE":4.5,"NH1":5,"NH2":6.5},{"t":50,"NE":4.5,"NH1":5,"NH2":6.6},{"t":100,"NE":4.4,"NH1":5,"NH2":6.5},{"t":150,"NE":4.5,"NH1":5.1,"NH2":6.4},{"t":200,"NE":4.5,"NH1":5,"NH2":6.6},{"t":250,"NE":4.5,"NH1":5,"NH2":6.2},{"t":300,"NE":4.4,"NH1":5,"NH2":6.5},{"t":350,"NE":4.5,"NH1":5,"NH2":6.6},{"t":400,"NE":4.5,"NH1":5.1,"NH2":6.5},{"t":450,"NE":4.5,"NH1":5,"NH2":6.4},{"t":500,"NE":4.4,"NH1":4.6,"NH2":6.5},{"t":550,"NE":4.5,"NH1":5,"NH2":6.6},{"t":600,"NE":4.5,"NH1":5,"NH2":6.5},{"t":650,"NE":4.5,"NH1":5,"NH2":6.5},{"t":700,"NE":3,"NH1":3.5,"NH2":5},{"t":750,"NE":3,"NH1":3.5,"NH2":4.9},{"t":800,"NE":2.9,"NH1":3.6,"NH2":5},{"t":850,"NE":3,"NH1":3.5,"NH2":5.1},{"t":900,"NE":3,"NH1":3.5,"NH2":5},{"t":950,"NE":2.9,"NH1":3.5,"NH2":4.9},{"t":1000,"NE":3,"NH1":3.5,"NH2":5}],
"D32":[{"t":0,"NE":4.5,"NH1":4.5,"NH2":6.5},{"t":50,"NE":4.5,"NH1":4.6,"NH2":6.7},{"t":100,"NE":4.4,"NH1":4.5,"NH2":6.5},{"t":150,"NE":4.5,"NH1":4.5,"NH2":6.4},{"t":200,"NE":4.5,"NH1":4.4,"NH2":6.6},{"t":250,"NE":4.5,"NH1":4.2,"NH2":6.3},{"t":300,"NE":4.4,"NH1":4.5,"NH2":6.5},{"t":350,"NE":4.5,"NH1":4.5,"NH2":6.6},{"t":400,"NE":4.5,"NH1":4.6,"NH2":6.4},{"t":450,"NE":4.5,"NH1":4.5,"NH2":6.5},{"t":500,"NE":4.4,"NH1":4.4,"NH2":6.5},{"t":550,"NE":4.5,"NH1":4.5,"NH2":6.4},{"t":600,"NE":3,"NH1":3.5,"NH2":5},{"t":650,"NE":2.9,"NH1":3.5,"NH2":5.2},{"t":700,"NE":3,"NH1":3.6,"NH2":5},{"t":750,"NE":3,"NH1":3.5,"NH2":4.9},{"t":800,"NE":3,"NH1":3.5,"NH2":5.1},{"t":850,"NE":2.9,"NH1":3.5,"NH2":5},{"t":900,"NE":3,"NH1":3.6,"NH2":5},{"t":950,"NE":3,"NH1":3.5,"NH2":5.2},{"t":1000,"NE":3,"NH1":3.5,"NH2":5}],
"D33":[{"t":0,"NE":4,"NH1":4.5,"NH2":6},{"t":50,"NE":4,"NH1":4.5,"NH2":6.5},{"t":100,"NE":4,"NH1":4.5,"NH2":6},{"t":150,"NE":3.5,"NH1":3,"NH2":5.5},{"t":200,"NE":3.5,"NH1":3,"NH2":4.5},{"t":250,"NE":3.5,"NH1":3,"NH2":6},{"t":300,"NE":3.8,"NH1":3,"NH2":4.5},{"t":350,"NE":3.5,"NH1":3,"NH2":5.5},{"t":400,"NE":4.5,"NH1":5,"NH2":6.5},{"t":450,"NE":4.5,"NH1":5,"NH2":6.6},{"t":500,"NE":4.5,"NH1":5,"NH2":6.5},{"t":550,"NE":4.6,"NH1":5,"NH2":6.6},{"t":600,"NE":4.5,"NH1":5,"NH2":6.5},{"t":650,"NE":4.5,"NH1":5.1,"NH2":6.6},{"t":700,"NE":4.5,"NH1":5,"NH2":6.7},{"t":750,"NE":4.6,"NH1":5,"NH2":6.6},{"t":800,"NE":4.5,"NH1":5,"NH2":6.6},{"t":850,"NE":4.5,"NH1":5,"NH2":6.7},{"t":900,"NE":4.6,"NH1":5.1,"NH2":6.6},{"t":950,"NE":4.5,"NH1":5,"NH2":6.7},{"t":1000,"NE":4.5,"NH1":5,"NH2":6.8}]
},
"spacing":20,
"resolve":{"scale":{"color":"independent"}},
"vconcat":[
{"spacing":35,"resolve":{"scale":{"color":"independent"}},"hconcat":[
{"title":{"text":"A","anchor":"start","fontSize":17,"offset":-8},"spacing":4,"resolve":{"scale":{"color":"independent"}},"vconcat":[
{"spacing":1,"resolve":{"scale":{"color":"independent"}},"hconcat":[
{"data":{"name":"A11"},"title":"A4 scFv-PO₃H⁻-Run1","transform":[{"fold":["NE","NH1","NH2"],"as":["s","d"]}],"layer":[{"mark":"line","encoding":{"x":{"field":"t","type":"quantitative","title":"Time [ns]"},"y":{"field":"d","type":"quantitative","title":"Distance (Å)","scale":{"domain":[0,15.7],"nice":false}},"color":{"field":"s","legend":{"title":null,"labelExpr":"'O1P - '+datum.label"}}}},{"data":{"values":[{}]},"mark":"rule","encoding":{"y":{"datum":3.5}}}]},
{"data":{"name":"A12"},"title":"A4 scFv-PO₃H⁻-Run2","transform":[{"fold":["NE","NH1","NH2"],"as":["s","d"]}],"layer":[{"mark":"line","encoding":{"x":{"field":"t","type":"quantitative","title":"Time [ns]"},"y":{"field":"d","type":"quantitative","title":"Distance (Å)","scale":{"domain":[0,15.7],"nice":false}},"color":{"field":"s","legend":{"title":null,"labelExpr":"'O1P - '+datum.label"}}}},{"data":{"values":[{}]},"mark":"rule","encoding":{"y":{"datum":3.5}}}]},
{"data":{"name":"A13"},"title":"A4 scFv-PO₃H⁻-Run3","transform":[{"fold":["NE","NH1","NH2"],"as":["s","d"]}],"layer":[{"mark":"line","encoding":{"x":{"field":"t","type":"quantitative","title":"Time [ns]"},"y":{"field":"d","type":"quantitative","title":"Distance (Å)","scale":{"domain":[0,15.7],"nice":false}},"color":{"field":"s","legend":{"title":null,"labelExpr":"'O1P - '+datum.label"}}}},{"data":{"values":[{}]},"mark":"rule","encoding":{"y":{"datum":3.5}}}]}
]},
{"spacing":1,"resolve":{"scale":{"color":"independent"}},"hconcat":[
{"data":{"name":"A21"},"transform":[{"fold":["NE","NH1","NH2"],"as":["s","d"]}],"layer":[{"mark":"line","encoding":{"x":{"field":"t","type":"quantitative","title":"Time [ns]"},"y":{"field":"d","type":"quantitative","title":"Distance (Å)","scale":{"domain":[0,15.7],"nice":false}},"color":{"field":"s","legend":{"title":null,"labelExpr":"'O2P - '+datum.label"}}}},{"data":{"values":[{}]},"mark":"rule","encoding":{"y":{"datum":3.5}}}]},
{"data":{"name":"A22"},"transform":[{"fold":["NE","NH1","NH2"],"as":["s","d"]}],"layer":[{"mark":"line","encoding":{"x":{"field":"t","type":"quantitative","title":"Time [ns]"},"y":{"field":"d","type":"quantitative","title":"Distance (Å)","scale":{"domain":[0,15.7],"nice":false}},"color":{"field":"s","legend":{"title":null,"labelExpr":"'O2P - '+datum.label"}}}},{"data":{"values":[{}]},"mark":"rule","encoding":{"y":{"datum":3.5}}}]},
{"data":{"name":"A23"},"transform":[{"fold":["NE","NH1","NH2"],"as":["s","d"]}],"layer":[{"mark":"line","encoding":{"x":{"field":"t","type":"quantitative","title":"Time [ns]"},"y":{"field":"d","type":"quantitative","title":"Distance (Å)","scale":{"domain":[0,15.7],"nice":false}},"color":{"field":"s","legend":{"title":null,"labelExpr":"'O2P - '+datum.label"}}}},{"data":{"values":[{}]},"mark":"rule","encoding":{"y":{"datum":3.5}}}]}
]},
{"spacing":1,"resolve":{"scale":{"color":"independent"}},"hconcat":[
{"data":{"name":"A31"},"transform":[{"fold":["NE","NH1","NH2"],"as":["s","d"]}],"layer":[{"mark":"line","encoding":{"x":{"field":"t","type":"quantitative","title":"Time [ns]"},"y":{"field":"d","type":"quantitative","title":"Distance (Å)","scale":{"domain":[0,15.7],"nice":false}},"color":{"field":"s","legend":{"title":null,"labelExpr":"'OT - '+datum.label"}}}},{"data":{"values":[{}]},"mark":"rule","encoding":{"y":{"datum":3.5}}}]},
{"data":{"name":"A32"},"transform":[{"fold":["NE","NH1","NH2"],"as":["s","d"]}],"layer":[{"mark":"line","encoding":{"x":{"field":"t","type":"quantitative","title":"Time [ns]"},"y":{"field":"d","type":"quantitative","title":"Distance (Å)","scale":{"domain":[0,15.7],"nice":false}},"color":{"field":"s","legend":{"title":null,"labelExpr":"'OT - '+datum.label"}}}},{"data":{"values":[{}]},"mark":"rule","encoding":{"y":{"datum":3.5}}}]},
{"data":{"name":"A33"},"transform":[{"fold":["NE","NH1","NH2"],"as":["s","d"]}],"layer":[{"mark":"line","encoding":{"x":{"field":"t","type":"quantitative","title":"Time [ns]"},"y":{"field":"d","type":"quantitative","title":"Distance (Å)","scale":{"domain":[0,15.7],"nice":false}},"color":{"field":"s","legend":{"title":null,"labelExpr":"'OT - '+datum.label"}}}},{"data":{"values":[{}]},"mark":"rule","encoding":{"y":{"datum":3.5}}}]}
]}
]},
{"title":{"text":"B","anchor":"start","fontSize":17,"offset":-8},"spacing":4,"resolve":{"scale":{"color":"independent"}},"vconcat":[
{"spacing":6,"resolve":{"scale":{"color":"independent"}},"hconcat":[
{"data":{"name":"B11"},"title":"A4 scFv-PO₃²⁻-Run1","transform":[{"fold":["NE","NH1","NH2"],"as":["s","d"]}],"layer":[{"mark":"line","encoding":{"x":{"field":"t","type":"quantitative","title":"Time [ns]"},"y":{"field":"d","type":"quantitative","title":"Distance (Å)","scale":{"domain":[0,15.7],"nice":false}},"color":{"field":"s","legend":{"title":null,"labelExpr":"'O1P - '+datum.label"}}}},{"data":{"values":[{}]},"mark":"rule","encoding":{"y":{"datum":3.5}}}]},
{"data":{"name":"B12"},"title":"A4 scFv-PO₃²⁻-Run2","transform":[{"fold":["NE","NH1","NH2"],"as":["s","d"]}],"layer":[{"mark":"line","encoding":{"x":{"field":"t","type":"quantitative","title":"Time [ns]"},"y":{"field":"d","type":"quantitative","title":"Distance (Å)","scale":{"domain":[0,15.7],"nice":false}},"color":{"field":"s","legend":{"title":null,"labelExpr":"'O1P - '+datum.label"}}}},{"data":{"values":[{}]},"mark":"rule","encoding":{"y":{"datum":3.5}}}]},
{"data":{"name":"B13"},"title":"A4 scFv-PO₃²⁻-Run3","transform":[{"fold":["NE","NH1","NH2"],"as":["s","d"]}],"layer":[{"mark":"line","encoding":{"x":{"field":"t","type":"quantitative","title":"Time [ns]"},"y":{"field":"d","type":"quantitative","title":"Distance (Å)","scale":{"domain":[0,15.7],"nice":false}},"color":{"field":"s","legend":{"title":null,"labelExpr":"'O1P - '+datum.label"}}}},{"data":{"values":[{}]},"mark":"rule","encoding":{"y":{"datum":3.5}}}]}
]},
{"spacing":6,"resolve":{"scale":{"color":"independent"}},"hconcat":[
{"data":{"name":"B21"},"transform":[{"fold":["NE","NH1","NH2"],"as":["s","d"]}],"layer":[{"mark":"line","encoding":{"x":{"field":"t","type":"quantitative","title":"Time [ns]"},"y":{"field":"d","type":"quantitative","title":"Distance (Å)","scale":{"domain":[0,15.7],"nice":false}},"color":{"field":"s","legend":{"title":null,"labelExpr":"'O2P - '+datum.label"}}}},{"data":{"values":[{}]},"mark":"rule","encoding":{"y":{"datum":3.5}}}]},
{"data":{"name":"B22"},"transform":[{"fold":["NE","NH1","NH2"],"as":["s","d"]}],"layer":[{"mark":"line","encoding":{"x":{"field":"t","type":"quantitative","title":"Time [ns]"},"y":{"field":"d","type":"quantitative","title":"Distance (Å)","scale":{"domain":[0,15.7],"nice":false}},"color":{"field":"s","legend":{"title":null,"labelExpr":"'O2P - '+datum.label"}}}},{"data":{"values":[{}]},"mark":"rule","encoding":{"y":{"datum":3.5}}}]},
{"data":{"name":"B23"},"transform":[{"fold":["NE","NH1","NH2"],"as":["s","d"]}],"layer":[{"mark":"line","encoding":{"x":{"field":"t","type":"quantitative","title":"Time [ns]"},"y":{"field":"d","type":"quantitative","title":"Distance (Å)","scale":{"domain":[0,15.7],"nice":false}},"color":{"field":"s","legend":{"title":null,"labelExpr":"'O2P - '+datum.label"}}}},{"data":{"values":[{}]},"mark":"rule","encoding":{"y":{"datum":3.5}}}]}
]},
{"spacing":6,"resolve":{"scale":{"color":"independent"}},"hconcat":[
{"data":{"name":"B31"},"transform":[{"fold":["NE","NH1","NH2"],"as":["s","d"]}],"layer":[{"mark":"line","encoding":{"x":{"field":"t","type":"quantitative","title":"Time [ns]"},"y":{"field":"d","type":"quantitative","title":"Distance (Å)","scale":{"domain":[0,15.7],"nice":false}},"color":{"field":"s","legend":{"title":null,"labelExpr":"'OT - '+datum.label"}}}},{"data":{"values":[{}]},"mark":"rule","encoding":{"y":{"datum":3.5}}}]},
{"data":{"name":"B32"},"transform":[{"fold":["NE","NH1","NH2"],"as":["s","d"]}],"layer":[{"mark":"line","encoding":{"x":{"field":"t","type":"quantitative","title":"Time [ns]"},"y":{"field":"d","type":"quantitative","title":"Distance (Å)","scale":{"domain":[0,15.7],"nice":false}},"color":{"field":"s","legend":{"title":null,"labelExpr":"'OT - '+datum.label"}}}},{"data":{"values":[{}]},"mark":"rule","encoding":{"y":{"datum":3.5}}}]},
{"data":{"name":"B33"},"transform":[{"fold":["NE","NH1","NH2"],"as":["s","d"]}],"layer":[{"mark":"line","encoding":{"x":{"field":"t","type":"quantitative","title":"Time [ns]"},"y":{"field":"d","type":"quantitative","title":"Distance (Å)","scale":{"domain":[0,15.7],"nice":false}},"color":{"field":"s","legend":{"title":null,"labelExpr":"'OT - '+datum.label"}}}},{"data":{"values":[{}]},"mark":"rule","encoding":{"y":{"datum":3.5}}}]}
]}
]}
]},
{"spacing":35,"resolve":{"scale":{"color":"independent"}},"hconcat":[
{"title":{"text":"C","anchor":"start","fontSize":17,"offset":-8},"spacing":5,"resolve":{"scale":{"color":"independent"}},"vconcat":[
{"spacing":0,"resolve":{"scale":{"color":"independent"}},"hconcat":[
{"data":{"name":"C11"},"width":98,"height":56,"title":"C7 scFv-PO₃H⁻-Run1","transform":[{"fold":["NE","NH1","NH2"],"as":["s","d"]}],"layer":[{"mark":"line","encoding":{"x":{"field":"t","type":"quantitative","title":"Time [ns]"},"y":{"field":"d","type":"quantitative","title":"Distance (Å)","scale":{"domain":[0,15.7],"nice":false}},"color":{"field":"s","legend":{"title":null,"labelExpr":"'O1P - '+datum.label"}}}},{"data":{"values":[{}]},"mark":"rule","encoding":{"y":{"datum":3.5}}}]},
{"data":{"name":"C12"},"width":98,"height":56,"title":"C7 scFv-PO₃H⁻-Run2","transform":[{"fold":["NE","NH1","NH2"],"as":["s","d"]}],"layer":[{"mark":"line","encoding":{"x":{"field":"t","type":"quantitative","title":"Time [ns]"},"y":{"field":"d","type":"quantitative","title":"Distance (Å)","scale":{"domain":[0,15.7],"nice":false}},"color":{"field":"s","legend":{"title":null,"labelExpr":"'O1P - '+datum.label"}}}},{"data":{"values":[{}]},"mark":"rule","encoding":{"y":{"datum":3.5}}}]},
{"data":{"name":"C13"},"width":98,"height":56,"title":"C7 scFv-PO₃H⁻-Run3","transform":[{"fold":["NE","NH1","NH2"],"as":["s","d"]}],"layer":[{"mark":"line","encoding":{"x":{"field":"t","type":"quantitative","title":"Time [ns]"},"y":{"field":"d","type":"quantitative","title":"Distance (Å)","scale":{"domain":[0,15.7],"nice":false}},"color":{"field":"s","legend":{"title":null,"labelExpr":"'O1P - '+datum.label"}}}},{"data":{"values":[{}]},"mark":"rule","encoding":{"y":{"datum":3.5}}}]}
]},
{"spacing":0,"resolve":{"scale":{"color":"independent"}},"hconcat":[
{"data":{"name":"C21"},"width":98,"height":56,"transform":[{"fold":["NE","NH1","NH2"],"as":["s","d"]}],"layer":[{"mark":"line","encoding":{"x":{"field":"t","type":"quantitative","title":"Time [ns]"},"y":{"field":"d","type":"quantitative","title":"Distance (Å)","scale":{"domain":[0,15.7],"nice":false}},"color":{"field":"s","legend":{"title":null,"labelExpr":"'O2P - '+datum.label"}}}},{"data":{"values":[{}]},"mark":"rule","encoding":{"y":{"datum":3.5}}}]},
{"data":{"name":"C22"},"width":98,"height":56,"transform":[{"fold":["NE","NH1","NH2"],"as":["s","d"]}],"layer":[{"mark":"line","encoding":{"x":{"field":"t","type":"quantitative","title":"Time [ns]"},"y":{"field":"d","type":"quantitative","title":"Distance (Å)","scale":{"domain":[0,15.7],"nice":false}},"color":{"field":"s","legend":{"title":null,"labelExpr":"'O2P - '+datum.label"}}}},{"data":{"values":[{}]},"mark":"rule","encoding":{"y":{"datum":3.5}}}]},
{"data":{"name":"C23"},"width":98,"height":56,"transform":[{"fold":["NE","NH1","NH2"],"as":["s","d"]}],"layer":[{"mark":"line","encoding":{"x":{"field":"t","type":"quantitative","title":"Time [ns]"},"y":{"field":"d","type":"quantitative","title":"Distance (Å)","scale":{"domain":[0,15.7],"nice":false}},"color":{"field":"s","legend":{"title":null,"labelExpr":"'O2P - '+datum.label"}}}},{"data":{"values":[{}]},"mark":"rule","encoding":{"y":{"datum":3.5}}}]}
]},
{"spacing":0,"resolve":{"scale":{"color":"independent"}},"hconcat":[
{"data":{"name":"C31"},"width":98,"height":56,"transform":[{"fold":["NE","NH1","NH2"],"as":["s","d"]}],"layer":[{"mark":"line","encoding":{"x":{"field":"t","type":"quantitative","title":"Time [ns]"},"y":{"field":"d","type":"quantitative","title":"Distance (Å)","scale":{"domain":[0,15.7],"nice":false}},"color":{"field":"s","legend":{"title":null,"labelExpr":"'OT - '+datum.label"}}}},{"data":{"values":[{}]},"mark":"rule","encoding":{"y":{"datum":3.5}}}]},
{"data":{"name":"C32"},"width":98,"height":56,"transform":[{"fold":["NE","NH1","NH2"],"as":["s","d"]}],"layer":[{"mark":"line","encoding":{"x":{"field":"t","type":"quantitative","title":"Time [ns]"},"y":{"field":"d","type":"quantitative","title":"Distance (Å)","scale":{"domain":[0,15.7],"nice":false}},"color":{"field":"s","legend":{"title":null,"labelExpr":"'OT - '+datum.label"}}}},{"data":{"values":[{}]},"mark":"rule","encoding":{"y":{"datum":3.5}}}]},
{"data":{"name":"C33"},"width":98,"height":56,"transform":[{"fold":["NE","NH1","NH2"],"as":["s","d"]}],"layer":[{"mark":"line","encoding":{"x":{"field":"t","type":"quantitative","title":"Time [ns]"},"y":{"field":"d","type":"quantitative","title":"Distance (Å)","scale":{"domain":[0,15.7],"nice":false}},"color":{"field":"s","legend":{"title":null,"labelExpr":"'OT - '+datum.label"}}}},{"data":{"values":[{}]},"mark":"rule","encoding":{"y":{"datum":3.5}}}]}
]}
]},
{"title":{"text":"D","anchor":"start","fontSize":17,"offset":-8},"spacing":5,"resolve":{"scale":{"color":"independent"}},"vconcat":[
{"spacing":1,"resolve":{"scale":{"color":"independent"}},"hconcat":[
{"data":{"name":"D11"},"width":97,"height":56,"title":"C7 scFv-PO₃²⁻-Run1","transform":[{"fold":["NE","NH1","NH2"],"as":["s","d"]}],"layer":[{"mark":"line","encoding":{"x":{"field":"t","type":"quantitative","title":"Time [ns]"},"y":{"field":"d","type":"quantitative","title":"Distance (Å)","scale":{"domain":[0,15.7],"nice":false}},"color":{"field":"s","legend":{"title":null,"labelExpr":"'O1P - '+datum.label"}}}},{"data":{"values":[{}]},"mark":"rule","encoding":{"y":{"datum":3.5}}}]},
{"data":{"name":"D12"},"width":97,"height":56,"title":"C7 scFv-PO₃²⁻-Run2","transform":[{"fold":["NE","NH1","NH2"],"as":["s","d"]}],"layer":[{"mark":"line","encoding":{"x":{"field":"t","type":"quantitative","title":"Time [ns]"},"y":{"field":"d","type":"quantitative","title":"Distance (Å)","scale":{"domain":[0,15.7],"nice":false}},"color":{"field":"s","legend":{"title":null,"labelExpr":"'O1P - '+datum.label"}}}},{"data":{"values":[{}]},"mark":"rule","encoding":{"y":{"datum":3.5}}}]},
{"data":{"name":"D13"},"width":97,"height":56,"title":"C7 scFv-PO₃²⁻-Run3","transform":[{"fold":["NE","NH1","NH2"],"as":["s","d"]}],"layer":[{"mark":"line","encoding":{"x":{"field":"t","type":"quantitative","title":"Time [ns]"},"y":{"field":"d","type":"quantitative","title":"Distance (Å)","scale":{"domain":[0,15.7],"nice":false}},"color":{"field":"s","legend":{"title":null,"labelExpr":"'O1P - '+datum.label"}}}},{"data":{"values":[{}]},"mark":"rule","encoding":{"y":{"datum":3.5}}}]}
]},
{"spacing":1,"resolve":{"scale":{"color":"independent"}},"hconcat":[
{"data":{"name":"D21"},"width":97,"height":56,"transform":[{"fold":["NE","NH1","NH2"],"as":["s","d"]}],"layer":[{"mark":"line","encoding":{"x":{"field":"t","type":"quantitative","title":"Time [ns]"},"y":{"field":"d","type":"quantitative","title":"Distance (Å)","scale":{"domain":[0,15.7],"nice":false}},"color":{"field":"s","legend":{"title":null,"labelExpr":"'O2P - '+datum.label"}}}},{"data":{"values":[{}]},"mark":"rule","encoding":{"y":{"datum":3.5}}}]},
{"data":{"name":"D22"},"width":97,"height":56,"transform":[{"fold":["NE","NH1","NH2"],"as":["s","d"]}],"layer":[{"mark":"line","encoding":{"x":{"field":"t","type":"quantitative","title":"Time [ns]"},"y":{"field":"d","type":"quantitative","title":"Distance (Å)","scale":{"domain":[0,15.7],"nice":false}},"color":{"field":"s","legend":{"title":null,"labelExpr":"'O2P - '+datum.label"}}}},{"data":{"values":[{}]},"mark":"rule","encoding":{"y":{"datum":3.5}}}]},
{"data":{"name":"D23"},"width":97,"height":56,"transform":[{"fold":["NE","NH1","NH2"],"as":["s","d"]}],"layer":[{"mark":"line","encoding":{"x":{"field":"t","type":"quantitative","title":"Time [ns]"},"y":{"field":"d","type":"quantitative","title":"Distance (Å)","scale":{"domain":[0,15.7],"nice":false}},"color":{"field":"s","legend":{"title":null,"labelExpr":"'O2P - '+datum.label"}}}},{"data":{"values":[{}]},"mark":"rule","encoding":{"y":{"datum":3.5}}}]}
]},
{"spacing":1,"resolve":{"scale":{"color":"independent"}},"hconcat":[
{"data":{"name":"D31"},"width":97,"height":56,"transform":[{"fold":["NE","NH1","NH2"],"as":["s","d"]}],"layer":[{"mark":"line","encoding":{"x":{"field":"t","type":"quantitative","title":"Time [ns]"},"y":{"field":"d","type":"quantitative","title":"Distance (Å)","scale":{"domain":[0,15.7],"nice":false}},"color":{"field":"s","legend":{"title":null,"labelExpr":"'OT - '+datum.label"}}}},{"data":{"values":[{}]},"mark":"rule","encoding":{"y":{"datum":3.5}}}]},
{"data":{"name":"D32"},"width":97,"height":56,"transform":[{"fold":["NE","NH1","NH2"],"as":["s","d"]}],"layer":[{"mark":"line","encoding":{"x":{"field":"t","type":"quantitative","title":"Time [ns]"},"y":{"field":"d","type":"quantitative","title":"Distance (Å)","scale":{"domain":[0,15.7],"nice":false}},"color":{"field":"s","legend":{"title":null,"labelExpr":"'OT - '+datum.label"}}}},{"data":{"values":[{}]},"mark":"rule","encoding":{"y":{"datum":3.5}}}]},
{"data":{"name":"D33"},"width":97,"height":56,"transform":[{"fold":["NE","NH1","NH2"],"as":["s","d"]}],"layer":[{"mark":"line","encoding":{"x":{"field":"t","type":"quantitative","title":"Time [ns]"},"y":{"field":"d","type":"quantitative","title":"Distance (Å)","scale":{"domain":[0,15.7],"nice":false}},"color":{"field":"s","legend":{"title":null,"labelExpr":"'OT - '+datum.label"}}}},{"data":{"values":[{}]},"mark":"rule","encoding":{"y":{"datum":3.5}}}]}
]}
]}
]}
]
}
